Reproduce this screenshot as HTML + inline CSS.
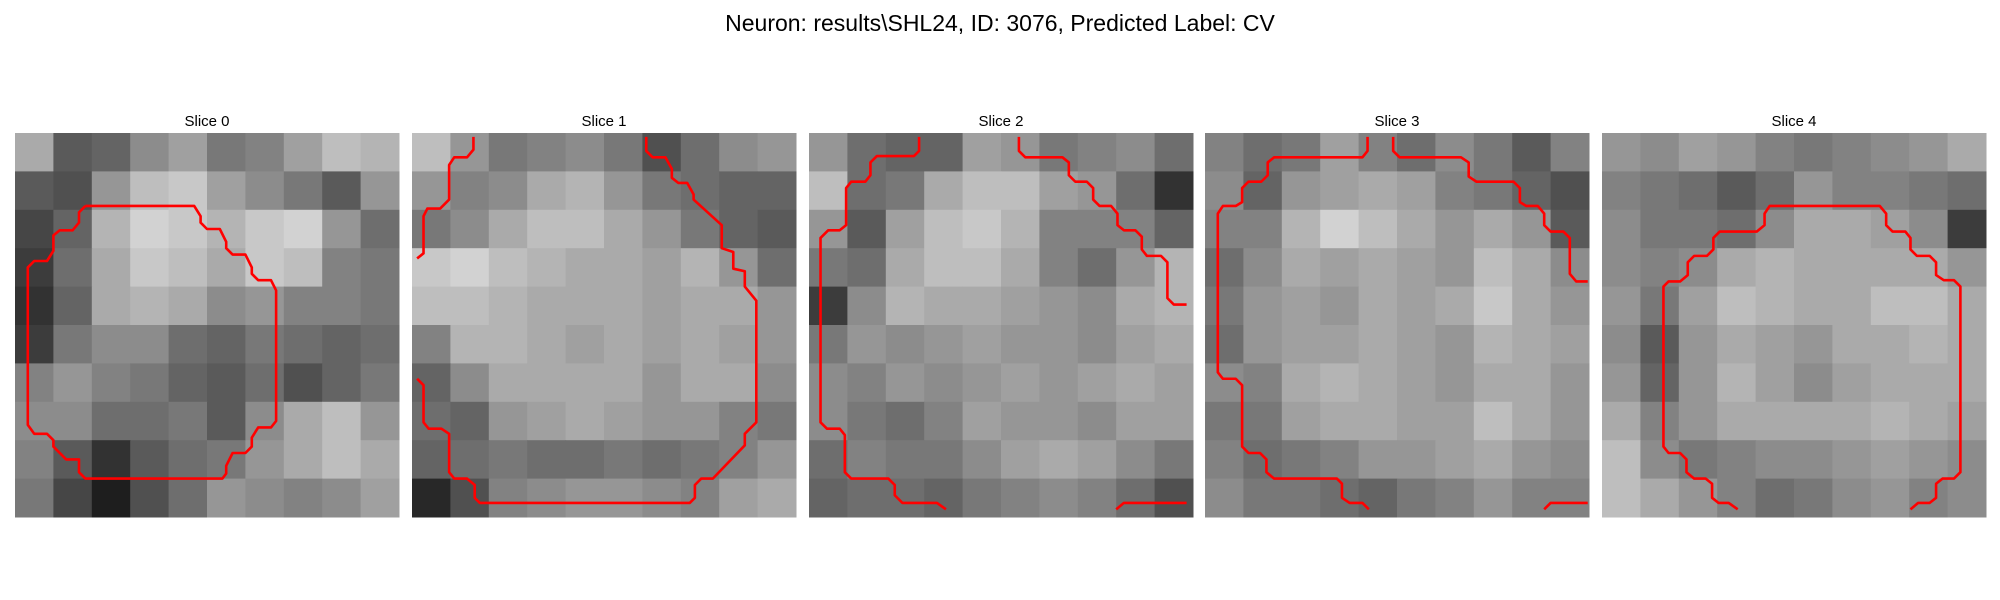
<!DOCTYPE html>
<html><head><meta charset="utf-8"><style>
html,body{margin:0;padding:0;background:#fff;width:2000px;height:600px;overflow:hidden}
svg{display:block}
text{font-family:"Liberation Sans","DejaVu Sans",sans-serif;fill:#000}
</style></head><body>
<svg id="fig" width="2000" height="600" viewBox="0 0 2000 600">
<text x="1000" y="31" font-size="23" text-anchor="middle">Neuron: results\SHL24, ID: 3076, Predicted Label: CV</text>
</svg>
<script>
const sliceTitles = ["Slice 0","Slice 1","Slice 2","Slice 3","Slice 4"];
const intensity0 = [
[170,90,100,140,160,120,130,160,190,180],[90,80,150,190,200,160,140,120,90,150],[70,100,180,210,200,180,200,210,150,110],[60,110,170,200,190,170,200,190,130,120],[50,100,170,180,170,140,150,130,130,120],[60,120,140,140,110,100,120,110,100,110],[130,150,130,120,100,90,110,80,100,120],[140,140,110,110,120,90,140,170,190,150],[130,90,50,90,110,120,150,170,190,170],[120,70,30,80,110,150,140,130,140,160]];
const intensity1 = [
[190,150,120,130,140,120,80,110,140,150],[150,130,140,170,180,150,120,110,100,100],[120,140,170,190,190,170,150,120,100,90],[200,210,190,180,170,170,160,180,150,110],[190,190,180,170,170,170,160,170,170,150],[130,180,180,170,160,170,160,170,160,150],[100,140,170,170,170,170,150,170,170,140],[110,100,150,160,170,160,150,150,130,120],[100,110,120,110,110,120,110,120,130,150],[40,80,130,140,150,150,140,130,160,170]];
const intensity2 = [
[150,110,100,100,160,150,120,130,140,110],[190,110,120,170,190,190,160,150,110,50],[150,90,160,190,200,180,130,130,130,100],[120,110,170,190,190,170,130,110,150,180],[60,140,180,170,170,160,150,140,170,180],[120,150,140,150,160,150,150,140,160,170],[140,130,150,140,150,160,150,160,170,160],[140,120,110,130,160,150,150,140,160,160],[110,130,120,120,140,160,170,160,140,120],[100,110,110,100,120,130,140,130,110,80]];
const intensity3 = [
[130,110,120,160,130,110,140,120,90,130],[140,100,150,160,170,160,130,120,100,80],[130,130,180,210,190,170,150,170,150,90],[110,140,170,160,170,160,150,190,170,140],[120,150,160,150,170,160,170,200,170,150],[110,150,160,160,170,160,150,180,170,160],[140,130,170,180,170,160,150,170,170,150],[120,120,160,170,170,160,160,190,170,150],[130,110,120,130,150,150,160,170,150,140],[140,120,120,110,100,120,130,150,130,130]];
const intensity4 = [
[150,140,160,150,130,120,130,140,150,170],[130,120,110,90,110,150,130,130,120,110],[140,120,120,110,140,170,170,160,140,60],[140,130,140,170,180,170,170,170,170,150],[150,120,160,190,180,170,170,190,190,170],[140,90,150,170,160,150,170,170,180,170],[150,100,150,180,160,140,160,170,170,170],[170,130,150,170,170,170,170,180,170,160],[190,140,120,130,140,140,150,160,150,140],[190,170,150,130,110,120,140,150,130,140]];
const contours0 = [[[5.5,5.7],[14,5.7],[14.5,6.5],[14.5,7],[15,7.5],[16,7.5],[16.5,8.5],[16.5,9],[17,9.5],[18,9.5],[18.5,10.5],[18.5,11],[19,11.5],[20,11.5],[20.4,12.3],[20.4,22.5],[20,23],[19,23],[18.5,23.8],[18.5,24.5],[18,25],[17,25],[16.5,26],[16.5,26.6],[16.2,27],[5.5,27],[5,26.5],[5,25.5],[4,25.5],[3,24.5],[3,24],[2.5,23.5],[1.5,23.5],[1,22.8],[1,10.5],[1.5,10],[2.5,10],[3,9.2],[3,8],[3.5,7.6],[4.5,7.6],[5,7],[5,6.2],[5.5,5.7]]];
const contours1 = [
[[4.8,0.3],[4.8,1.3],[4.3,1.9],[3.3,1.9],[2.9,2.5],[2.9,5.2],[2.2,5.9],[1.2,5.9],[0.9,6.5],[0.9,9.4],[0.4,9.8]],
[[18.3,0.3],[18.3,1.4],[18.8,1.9],[19.8,1.9],[20.3,2.8],[20.3,3.5],[20.8,3.9],[21.5,3.9],[22,4.8],[22,5.2],[24.2,7.2],[24.2,9],[25.1,9.3],[25.1,10.6],[26,10.8],[26,12],[26.9,13.1],[26.9,22.6],[26,23.5],[26,24.4],[23.5,27],[22.6,27],[22.1,27.5],[22.1,28.5],[21.7,28.9],[5.3,28.9],[4.9,28.5],[4.9,27.5],[4.3,27],[3.3,27],[2.9,26.5],[2.9,23.5],[2.3,23.1],[1.3,23.1],[0.9,22.6],[0.9,19.7],[0.4,19.2]]];
const contours2 = [
[[8.6,0.3],[8.6,1.4],[8.2,1.8],[5.3,1.8],[4.8,2.3],[4.8,3.3],[4.4,3.8],[3.3,3.8],[2.9,4.3],[2.9,7.2],[2.4,7.6],[1.5,7.6],[0.9,8.2],[0.9,22.6],[1.4,23.1],[2.4,23.1],[2.8,23.6],[2.8,26.5],[3.3,27],[6.2,27],[6.7,27.5],[6.7,28.3],[7.3,28.9],[10,28.9],[10.7,29.4]],
[[16.4,0.3],[16.4,1.4],[16.9,1.9],[19.8,1.9],[20.3,2.3],[20.3,3.3],[20.8,3.8],[21.7,3.8],[22.2,4.3],[22.2,5.2],[22.7,5.7],[23.6,5.7],[24.1,6.3],[24.1,7.2],[24.6,7.6],[25.5,7.6],[26,8.1],[26,9.1],[26.4,9.6],[27.5,9.6],[28,10.1],[28,12.9],[28.5,13.4],[29.5,13.4]],
[[24,29.4],[24.6,28.9],[29.5,28.9]]];
const contours3 = [
[[12.7,0.3],[12.7,1.4],[12.3,1.9],[5.4,1.9],[4.9,2.3],[4.9,3.3],[4.4,3.8],[3.4,3.8],[2.9,4.3],[2.9,5.4],[2.4,5.7],[1.4,5.7],[1,6.3],[1,18.7],[1.4,19.2],[2.4,19.2],[2.9,19.7],[2.9,24.5],[3.4,25],[4.3,25],[4.8,25.5],[4.8,26.5],[5.4,27],[10.3,27],[10.7,27.4],[10.7,28.5],[11.3,28.9],[12.3,28.9],[12.8,29.4]],
[[14.7,0.3],[14.7,1.4],[15.2,1.9],[20,1.9],[20.6,2.3],[20.6,3.4],[21.2,3.8],[24.1,3.8],[24.6,4.3],[24.6,5.4],[25.1,5.7],[26,5.7],[26.5,6.3],[26.5,7.2],[27,7.7],[28,7.7],[28.5,8.2],[28.5,11],[29,11.6],[29.9,11.6]],
[[26.5,29.4],[27,28.9],[29.9,28.9]]];
const contours4 = [
[[10.6,29.4],[9.9,28.9],[9.1,28.9],[8.6,28.5],[8.6,27.4],[8.1,27],[7.2,27],[6.6,26.5],[6.6,25.5],[6.1,25],[5.2,25],[4.8,24.5],[4.8,12],[5.2,11.6],[6.1,11.6],[6.7,11.1],[6.7,10.1],[7.2,9.6],[8.2,9.6],[8.7,9.1],[8.7,8.2],[9.2,7.7],[12.1,7.7],[12.7,7.2],[12.7,6.3],[13.1,5.7],[21.7,5.7],[22.2,6.3],[22.2,7.2],[22.7,7.7],[23.7,7.7],[24.1,8.2],[24.1,9.1],[24.6,9.6],[25.6,9.6],[26.1,10.1],[26.1,11.1],[26.7,11.5],[27.5,11.5],[28,12],[28,26.5],[27.5,27],[26.6,27],[26.1,27.4],[26.1,28.5],[25.6,28.9],[24.7,28.9],[24.1,29.4]]];

const intensities = [intensity0,intensity1,intensity2,intensity3,intensity4];
const contours = [contours0,contours1,contours2,contours3,contours4];
const NS="http://www.w3.org/2000/svg";
const svg=document.getElementById('fig');
const panelX=[15,412,809,1205,1602], panelY=133, panelSize=384, gridCells=30;
function xScale(p,c){return panelX[p]+c*panelSize/gridCells;}
function yScale(c){return panelY+c*panelSize/gridCells;}
intensities.forEach((grid,p)=>{
  const g=document.createElementNS(NS,'g');
  
  
  svg.appendChild(g);
  const t=document.createElementNS(NS,'text');
  
  
  t.setAttribute('x',panelX[p]+panelSize/2);t.setAttribute('y',126);
  t.setAttribute('font-size','15');t.setAttribute('text-anchor','middle');
  t.textContent=sliceTitles[p];g.appendChild(t);
  const n=grid.length, step=gridCells/n;
  grid.forEach((row,r)=>row.forEach((v,c)=>{
    const rc=document.createElementNS(NS,'rect');
    
    
    const x0=xScale(p,c*step), x1=xScale(p,(c+1)*step), y0=yScale(r*step), y1=yScale((r+1)*step);
    rc.setAttribute('x',x0);rc.setAttribute('y',y0);
    rc.setAttribute('width',x1-x0+0.5);rc.setAttribute('height',y1-y0+0.5);
    rc.setAttribute('fill','rgb('+v+','+v+','+v+')');
    g.appendChild(rc);
  }));
  contours[p].forEach(line=>{
    const pl=document.createElementNS(NS,'polyline');
    
    
    pl.setAttribute('points',line.map(q=>xScale(p,q[0])+','+yScale(q[1])).join(' '));
    pl.setAttribute('fill','none');pl.setAttribute('stroke','#ff0000');
    pl.setAttribute('stroke-width','2.6');pl.setAttribute('stroke-linejoin','round');
    g.appendChild(pl);
  });
});
</script>
</body></html>
